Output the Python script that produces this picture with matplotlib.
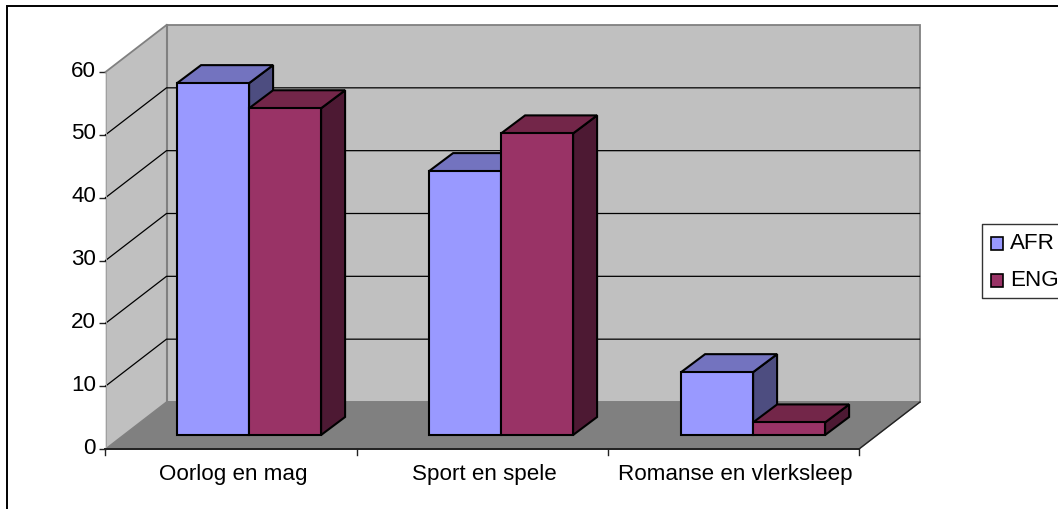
# -*- coding: utf-8 -*-
import matplotlib
matplotlib.use("Agg")
import matplotlib.pyplot as plt
from matplotlib.patches import Polygon, Rectangle
from matplotlib.transforms import ScaledTranslation
import numpy as np

categories = ["Oorlog en mag", "Sport en spele", "Romanse en vlerksleep"]
afr = [56, 42, 10]
eng = [52, 48, 2]
y_ticks = [0, 10, 20, 30, 40, 50, 60]

W, H = 1058, 509
plt.rcParams["font.family"] = ["Liberation Sans", "DejaVu Sans"]
plt.rcParams["font.size"] = 16.1

fig = plt.figure(figsize=(W / 100, H / 100), dpi=100)
bg = fig.add_axes([0, 0, 1, 1])
bg.set_xlim(0, W)
bg.set_ylim(H, 0)
bg.axis("off")

# Outer chart border, runs off the right and bottom of the image
bg.plot([7, 7, W + 2], [H + 2, 5.8, 5.8], color="black", lw=1.4,
        solid_joinstyle="miter")

# Front plane of the 3D box: value axis and category axis live here
x0, x1, y0, y1 = 105.5, 859.0, 449.0, 72.0
ax = fig.add_axes([x0 / W, 1 - y0 / H, (x1 - x0) / W, (y0 - y1) / H])
ax.set_xlim(-0.5, 2.5)
ax.set_ylim(0, 60)
ax.patch.set_alpha(0)
for name in ["top", "right"]:
    ax.spines[name].set_visible(False)
ax.spines["left"].set_color("#a0a0a0")
ax.spines["left"].set_linewidth(0.7)
ax.spines["bottom"].set_color("#222222")
ax.spines["bottom"].set_linewidth(1.4)

x_per_px = 3 / (x1 - x0)
y_per_px = 60 / (y0 - y1)
wall_dx, wall_dy = 61 * x_per_px, 47 * y_per_px
base_dx, base_dy = 18 * x_per_px, 14 * y_per_px
bar_dx, bar_dy = 24 * x_per_px, 18 * y_per_px
bar_w = 72 * x_per_px
bar_step = 252 * x_per_px

xl, xr = ax.get_xlim()
top = ax.get_ylim()[1]
wall = "#c0c0c0"
edge = "#808080"


def poly(pts, fc, ec, lw=1.0, z=1):
    ax.add_patch(Polygon(pts, closed=True, fc=fc, ec=ec, lw=lw, zorder=z,
                         clip_on=False, joinstyle="miter"))


# Back wall, side wall, floor
poly([(xl + wall_dx, wall_dy), (xr + wall_dx, wall_dy),
      (xr + wall_dx, top + wall_dy), (xl + wall_dx, top + wall_dy)], wall, edge, 1.3)
poly([(xl, 0), (xl + wall_dx, wall_dy), (xl + wall_dx, top + wall_dy), (xl, top)],
     wall, "none", 0, 1)
poly([(xl, 0), (xr, 0), (xr + wall_dx, wall_dy), (xl + wall_dx, wall_dy)],
     "#808080", "#808080", 1.0)
ax.plot([xr, xr + wall_dx], [0, wall_dy], color="#222222", lw=1.0, zorder=2, clip_on=False)
ax.plot([xl + wall_dx, xl + wall_dx], [wall_dy, top + wall_dy], color=edge, lw=1.5,
        zorder=2, clip_on=False)

# Gridlines on the side wall and the back wall
for t in y_ticks[1:-1]:
    ax.plot([xl, xl + wall_dx, xr + wall_dx - 0.5 * x_per_px], [t, t + wall_dy, t + wall_dy],
            color="black", lw=0.9, zorder=2, clip_on=False,
            solid_joinstyle="miter")
ax.plot([xl, xl + wall_dx], [top, top + wall_dy], color=edge, lw=1.3, zorder=2, clip_on=False)


def bar3d(x_left, value, front, topc, side, z):
    xa, xb = x_left, x_left + bar_w
    yb, yt = base_dy, base_dy + value
    poly([(xb, yb), (xb + bar_dx, yb + bar_dy), (xb + bar_dx, yt + bar_dy), (xb, yt)],
         side, "black", 1.5, z)
    poly([(xa, yt), (xb, yt), (xb + bar_dx, yt + bar_dy), (xa + bar_dx, yt + bar_dy)],
         topc, "black", 1.5, z)
    ax.bar(xa, value, width=bar_w, bottom=yb, align="edge", color=front,
           edgecolor="black", linewidth=1.5, zorder=z + 0.5, clip_on=False)


pos = np.arange(len(categories))
for i in pos:
    left = i * bar_step + base_dx - bar_w
    bar3d(left, afr[i], "#9999ff", "#7373bf", "#4d4d80", 3 + 2 * i)
    bar3d(left + bar_w, eng[i], "#993366", "#732649", "#4d1933", 4 + 2 * i)

ax.set_yticks(y_ticks)
ax.set_xticks(pos)
ax.set_xticklabels(categories)
ax.tick_params(axis="x", length=0, pad=10.5, colors="black")
ax.tick_params(axis="y", length=5, width=1.0, pad=1.8, color="#222222")
for lbl in ax.get_yticklabels():
    lbl.set_transform(lbl.get_transform() + ScaledTranslation(0, 2.5 / 72, fig.dpi_scale_trans))
for lbl in ax.get_xticklabels():
    lbl.set_transform(lbl.get_transform() + ScaledTranslation(1.5 / 72, 0, fig.dpi_scale_trans))
for b in [-0.5, 0.5, 1.5, 2.5]:
    ax.plot([b, b], [0, -6 * y_per_px], color="#222222", lw=1.0, clip_on=False, zorder=6)

# Legend box, also runs off the right edge
bg.plot([W + 2, 981.5, 981.5, W + 2], [223.5, 223.5, 297.5, 297.5], color="#333333", lw=1.0)
for label, color, yc in [("AFR", "#9999ff", 243.5), ("ENG", "#993366", 280)]:
    bg.add_patch(Rectangle((990.5, yc - 6.5), 12, 13, fc=color, ec="black", lw=1.2))
    bg.text(1010, yc, label, va="center", ha="left")

fig.savefig("out.png", dpi=100)
